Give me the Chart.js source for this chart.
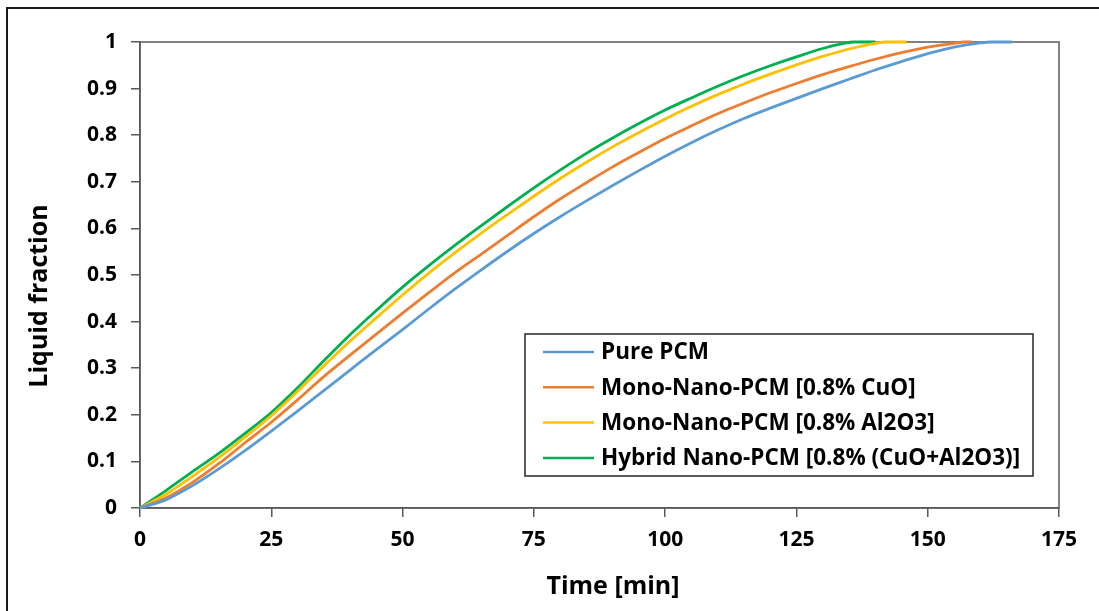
<!DOCTYPE html>
<html>
<head>
<meta charset="utf-8">
<title>Liquid fraction vs time</title>
<script src="https://cdn.jsdelivr.net/npm/chart.js@4.4.0/dist/chart.umd.min.js"></script>
<style>
  html, body { margin: 0; padding: 0; background: #fff; }
  #wrap { position: relative; width: 1099px; height: 611px; }
</style>
</head>
<body>
<div id="wrap"><canvas id="chart" width="1099" height="611"></canvas></div>
<script>
// values (time in min, liquid fraction 0..1)
const seriesNames = [
  'Pure PCM',
  'Mono-Nano-PCM [0.8% CuO]',
  'Mono-Nano-PCM [0.8% Al2O3]',
  'Hybrid Nano-PCM [0.8% (CuO+Al2O3)]'
];
const seriesColors = ['#5B9BD5', '#ED7D31', '#FFC000', '#00B050'];

const pureTime = [0, 5, 10, 15, 20, 25, 30, 35, 40, 45, 50, 55, 60, 65, 70, 75, 80, 85, 90, 95, 100, 105, 110, 115, 120, 125, 130, 135, 140, 145, 150, 155, 160, 162, 166];
const pureFraction = [0, 0.018, 0.048, 0.084, 0.123, 0.165, 0.208, 0.252, 0.296, 0.34, 0.383, 0.427, 0.47, 0.511, 0.551, 0.589, 0.625, 0.659, 0.692, 0.724, 0.755, 0.784, 0.811, 0.836, 0.858, 0.879, 0.9, 0.92, 0.94, 0.958, 0.975, 0.989, 0.998, 1, 1];

const cuoTime = [0, 5, 10, 15, 20, 25, 30, 35, 40, 45, 50, 55, 60, 65, 70, 75, 80, 85, 90, 95, 100, 105, 110, 115, 120, 125, 130, 135, 140, 145, 150, 155, 157, 158.5];
const cuoFraction = [0, 0.022, 0.055, 0.095, 0.14, 0.184, 0.232, 0.282, 0.328, 0.373, 0.418, 0.462, 0.505, 0.545, 0.585, 0.625, 0.663, 0.698, 0.732, 0.763, 0.793, 0.82, 0.846, 0.869, 0.891, 0.911, 0.93, 0.947, 0.963, 0.977, 0.989, 0.997, 1, 1];

const al2o3Time = [0, 5, 10, 15, 20, 25, 30, 35, 40, 45, 50, 55, 60, 65, 70, 75, 80, 85, 90, 95, 100, 105, 110, 115, 120, 125, 130, 135, 140, 142, 146];
const al2o3Fraction = [0, 0.03, 0.068, 0.108, 0.152, 0.198, 0.25, 0.305, 0.358, 0.408, 0.457, 0.504, 0.548, 0.59, 0.63, 0.669, 0.707, 0.742, 0.775, 0.806, 0.835, 0.862, 0.887, 0.91, 0.931, 0.951, 0.969, 0.985, 0.997, 1, 1];

const hybridTime = [0, 5, 10, 15, 20, 25, 30, 35, 40, 45, 50, 55, 60, 65, 70, 75, 80, 85, 90, 95, 100, 105, 110, 115, 120, 125, 130, 134, 136, 140];
const hybridFraction = [0, 0.038, 0.078, 0.117, 0.16, 0.205, 0.258, 0.316, 0.372, 0.424, 0.474, 0.52, 0.564, 0.606, 0.647, 0.687, 0.725, 0.761, 0.794, 0.825, 0.854, 0.88, 0.905, 0.928, 0.949, 0.968, 0.986, 0.997, 1, 1];

const xTicks = [0, 25, 50, 75, 100, 125, 150, 175];
const xTitle = 'Time [min]';
const yTitle = 'Liquid fraction';

const toPoints = (times, values) => times.map((t, i) => ({ x: t, y: values[i] }));
const allTimes = [pureTime, cuoTime, al2o3Time, hybridTime];
const allValues = [pureFraction, cuoFraction, al2o3Fraction, hybridFraction];

const FONT = '"Open Sans", "DejaVu Sans", sans-serif';
const axisGray = '#595959';

// frame round the whole picture + box round the plot area
const frames = {
  id: 'frames',
  beforeDatasetsDraw(chart) {
    const { ctx, chartArea: a } = chart;
    ctx.save();
    ctx.strokeStyle = axisGray;
    ctx.lineWidth = 1.5;
    ctx.strokeRect(a.left, a.top, a.right - a.left, a.bottom - a.top);
    ctx.restore();
  },
  afterDraw(chart) {
    const ctx = chart.ctx;
    ctx.save();
    ctx.strokeStyle = '#1a1a1a';
    ctx.lineWidth = 2;
    ctx.strokeRect(7, 8, 1200, 700);
    ctx.restore();
  }
};

// axis titles sit a little off-centre in the reference, so place them by hand
const axisTitles = {
  id: 'axisTitles',
  afterDraw(chart) {
    const ctx = chart.ctx;
    ctx.save();
    ctx.fillStyle = '#000';
    ctx.font = 'bold 25px ' + FONT;
    ctx.textAlign = 'center';
    ctx.textBaseline = 'middle';
    ctx.fillText(xTitle, 613, 587);
    ctx.translate(40, 296);
    ctx.rotate(-Math.PI / 2);
    ctx.fillText(yTitle, 0, 0);
    ctx.restore();
  }
};

// legend drawn as a boxed list inside the plot
const boxLegend = {
  id: 'boxLegend',
  afterDraw(chart) {
    const ctx = chart.ctx;
    ctx.save();
    ctx.fillStyle = '#fff';
    ctx.fillRect(525, 334, 508, 142);
    ctx.strokeStyle = '#262626';
    ctx.lineWidth = 1.5;
    ctx.strokeRect(525, 334, 508, 142);
    chart.data.datasets.forEach((ds, i) => {
      const y = 352 + i * 35.3;
      ctx.strokeStyle = ds.borderColor;
      ctx.lineWidth = 2.5;
      ctx.beginPath();
      ctx.moveTo(543, y);
      ctx.lineTo(594, y);
      ctx.stroke();
      ctx.fillStyle = '#000';
      ctx.font = 'bold 22.5px ' + FONT;
      ctx.textBaseline = 'middle';
      ctx.textAlign = 'left';
      ctx.fillText(ds.label, 601, y + 1);
    });
    ctx.restore();
  }
};

new Chart(document.getElementById('chart'), {
  type: 'line',
  data: {
    datasets: seriesNames.map((name, i) => ({
      label: name,
      data: toPoints(allTimes[i], allValues[i]),
      borderColor: seriesColors[i],
      backgroundColor: seriesColors[i],
      borderWidth: 2.8,
      pointRadius: 0,
      cubicInterpolationMode: 'monotone',
      clip: 4
    }))
  },
  options: {
    responsive: false,
    animation: false,
    layout: { padding: { top: 42, right: 40, left: 0, bottom: 0 } },
    plugins: {
      legend: { display: false },
      tooltip: { enabled: false }
    },
    scales: {
      x: {
        type: 'linear',
        min: 0,
        max: 175,
        afterBuildTicks: (scale) => { scale.ticks = xTicks.map(v => ({ value: v })); },
        afterFit: (scale) => { scale.height = 103; },
        grid: { drawOnChartArea: false, drawTicks: true, tickLength: 9, color: axisGray, lineWidth: 1.5 },
        border: { color: axisGray, width: 1.5 },
        ticks: { color: '#000', padding: 10, font: { family: FONT, size: 21, weight: 'bold' } }
      },
      y: {
        min: 0,
        max: 1,
        afterFit: (scale) => { scale.width = 140; },
        grid: { drawOnChartArea: false, drawTicks: true, tickLength: 9, color: axisGray, lineWidth: 1.5 },
        border: { color: axisGray, width: 1.5 },
        ticks: {
          stepSize: 0.1,
          color: '#000',
          padding: 14,
          font: { family: FONT, size: 21, weight: 'bold' },
          callback: (v) => String(Number(v.toFixed(1)))
        }
      }
    }
  },
  plugins: [frames, axisTitles, boxLegend]
});
</script>
</body>
</html>
